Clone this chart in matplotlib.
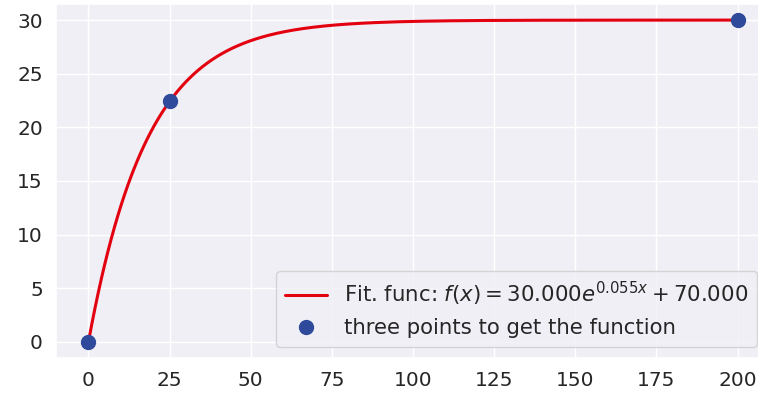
import numpy as np
import matplotlib
matplotlib.use("Agg")
import matplotlib.pyplot as plt
import seaborn as sns

sns.set_theme(style="darkgrid", rc={'axes.facecolor': '#f0eff6'})
plt.rcParams['font.family'] = ['DejaVu Sans']

# three points used to get the function
pts_x = [0, 25, 200]
pts_y = [0, 22.5, 30]

# fit parameters: f(x) = A * (1 - exp(-k x))
A = 30.0
k = 0.055
x_min, x_max = 0, 200

fig = plt.figure(figsize=(7.58, 3.94), dpi=100)
ax = fig.add_axes([56/758, (394-358)/394, (770-56)/758, (358-4)/394])

xs = np.linspace(x_min, x_max, 400)
ys = A * (1 - np.exp(-k * xs))
ax.plot(xs, ys, color='#e3000f', lw=2.2,
        label=r'Fit. func: $f(x) = 30.000e^{0.055x} + 70.000$')
ax.plot(pts_x, pts_y, 'o', color='#2f4a9a', markersize=10,
        label='three points to get the function')

ax.set_xlim(-10, 210)
ax.set_ylim(-1.5, 31.5)
ax.set_xticks([0, 25, 50, 75, 100, 125, 150, 175, 200])
ax.set_yticks([0, 5, 10, 15, 20, 25, 30])
ax.tick_params(labelsize=14.5, colors='#262626')
leg = ax.legend(fontsize=15.3, loc='lower right', borderpad=0.4, borderaxespad=0,
                bbox_to_anchor=(757/758, (394-347)/394), bbox_transform=fig.transFigure)
for t in leg.get_texts():
    t.set_color('#262626')

fig.savefig('out.png', dpi=100)
